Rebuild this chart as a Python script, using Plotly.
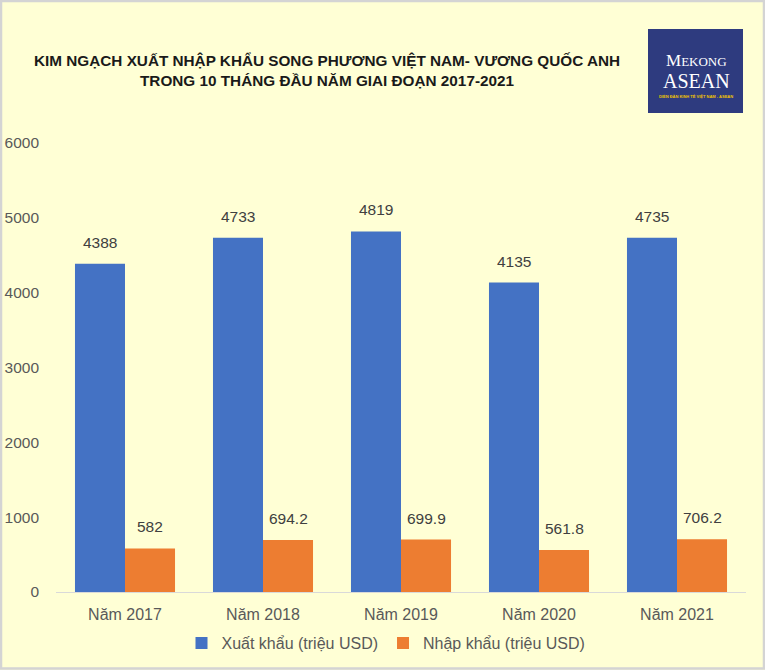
import plotly.graph_objects as go

categories = ["Năm 2017", "Năm 2018", "Năm 2019", "Năm 2020", "Năm 2021"]
export_vals = [4388, 4733, 4819, 4135, 4735]
import_vals = [582, 694.2, 699.9, 561.8, 706.2]
export_labels = ["4388", "4733", "4819", "4135", "4735"]
import_labels = ["582", "694.2", "699.9", "561.8", "706.2"]
y_ticks = [0, 1000, 2000, 3000, 4000, 5000, 6000]

BG = "#FFFFD5"
font_fam = "Liberation Sans, Arial, sans-serif"
W, H = 765, 670
L, R, T, B = 56, 19, 143, 78
PW, PH = W - L - R, H - T - B


def px_x(p):
    return (p - L) / PW


def px_y(p):
    return (H - B - p) / PH


fig = go.Figure()
fig.add_trace(go.Bar(
    x=categories, y=export_vals, name="Xuất khẩu (triệu USD)",
    marker=dict(color="#4472C4", line=dict(width=0)),
))
fig.add_trace(go.Bar(
    x=categories, y=import_vals, name="Nhập khẩu (triệu USD)",
    marker=dict(color="#ED7D31", line=dict(width=0)),
))

# data labels above bars
for vals, labs, shift in ((export_vals, export_labels, -25), (import_vals, import_labels, 25)):
    for c, v, t in zip(categories, vals, labs):
        fig.add_annotation(x=c, y=v, text=t, xref="x", yref="y", showarrow=False,
                           xanchor="center", yanchor="bottom", xshift=shift, yshift=11,
                           font=dict(size=15.5, color="#404040", family=font_fam))

fig.update_layout(
    width=W, height=H,
    paper_bgcolor=BG, plot_bgcolor=BG,
    margin=dict(l=L, r=R, t=T, b=B, autoexpand=False),
    barmode="group", bargap=0.275, bargroupgap=0,
    font=dict(family=font_fam, color="#595959", size=15),
    showlegend=True,
    legend=dict(orientation="h", x=px_x(386), xanchor="center", y=px_y(626), yanchor="top",
                font=dict(size=16, color="#595959"), bgcolor="rgba(0,0,0,0)",
                itemwidth=30, traceorder="normal"),
    xaxis=dict(showgrid=False, showline=True, linecolor="#D9D9D9", linewidth=1,
               ticks="", ticklabelstandoff=8, tickfont=dict(size=16, color="#595959")),
    yaxis=dict(range=[0, 6000], tickvals=y_ticks, showgrid=False, zeroline=False,
               showline=False, ticks="", ticklabelstandoff=16,
               tickfont=dict(size=15.5, color="#595959")),
)

fig.add_annotation(
    text="<b>KIM NGẠCH XUẤT NHẬP KHẨU SONG PHƯƠNG VIỆT NAM- VƯƠNG QUỐC ANH<br>TRONG 10 THÁNG ĐẦU NĂM GIAI ĐOẠN 2017-2021</b>",
    xref="paper", yref="paper", x=px_x(327), y=px_y(50),
    xanchor="center", yanchor="top", showarrow=False, align="center",
    font=dict(family=font_fam, size=15.3, color="#1a1a1a"),
)

# logo box
fig.add_shape(type="rect", xref="paper", yref="paper",
              x0=px_x(648), x1=px_x(743), y0=px_y(113), y1=px_y(29),
              fillcolor="#2E3B7F", line=dict(width=0), layer="above")
fig.add_annotation(text="M<span style='font-size:13px'>EKONG</span>", xref="paper", yref="paper",
                   x=px_x(696), y=px_y(61), showarrow=False, xanchor="center", yanchor="middle",
                   font=dict(family="Liberation Serif, serif", size=17, color="white"))
fig.add_annotation(text="ASEAN", xref="paper", yref="paper",
                   x=px_x(696), y=px_y(81), showarrow=False, xanchor="center", yanchor="middle",
                   font=dict(family="Liberation Serif, serif", size=20, color="white"))
fig.add_annotation(text="<b>DIỄN ĐÀN KINH TẾ VIỆT NAM - ASEAN</b>", xref="paper", yref="paper",
                   x=px_x(696), y=px_y(96), showarrow=False, xanchor="center", yanchor="middle",
                   font=dict(family="Liberation Sans, sans-serif", size=4, color="#F2C500"))

# outer gray frame
fig.add_shape(type="rect", xref="paper", yref="paper",
              x0=px_x(1), x1=px_x(W - 1), y0=px_y(H - 1.5), y1=px_y(1),
              line=dict(color="#D4D4D4", width=2.5), fillcolor="rgba(0,0,0,0)", layer="below")

fig.write_html("out.html", config={"displayModeBar": False},
               post_script="document.body.style.margin='0';document.body.style.background='#FFFFD5';")
